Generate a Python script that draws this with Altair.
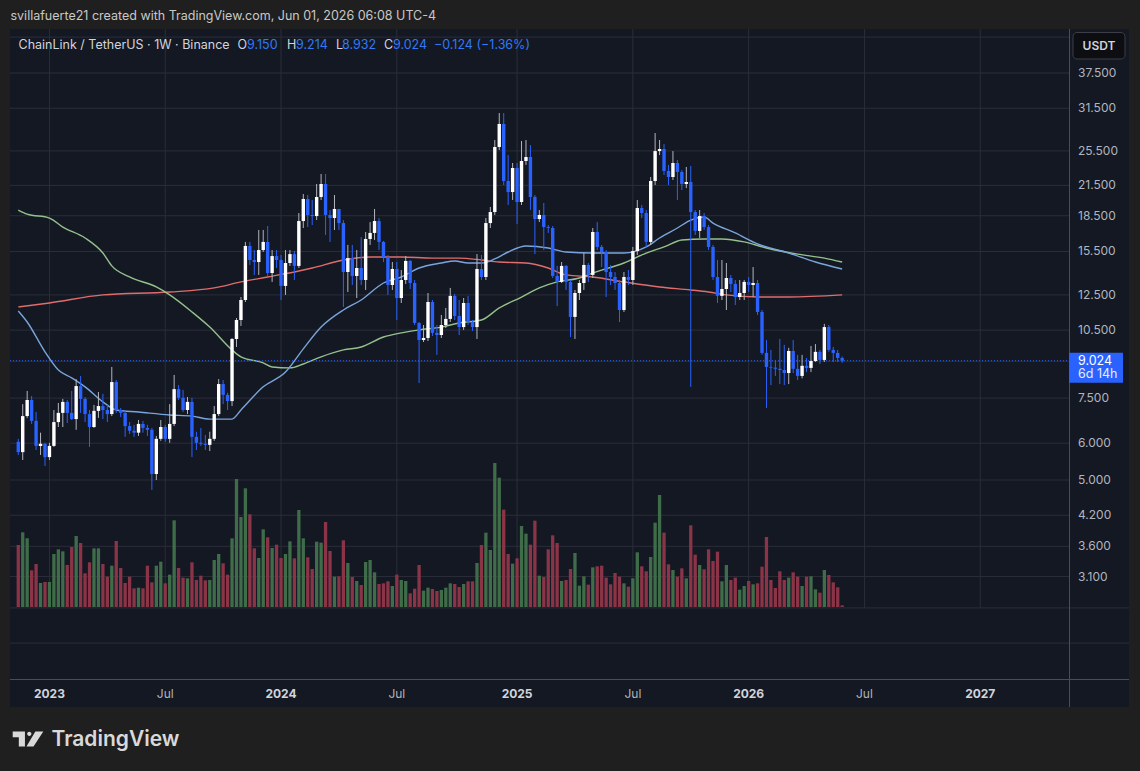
import altair as alt
import pandas as pd

# ---------------- data (weekly LINK/USDT) ----------------
opens = [6.04,5.74,6.86,7.43,6.70,5.92,5.98,5.60,5.92,6.66,
         6.97,7.36,6.97,6.76,7.96,7.47,6.93,6.50,7.04,7.21,
         7.07,6.93,8.12,7.07,6.97,6.53,6.38,6.32,6.60,6.47,
         6.41,5.15,6.13,6.50,6.13,6.60,7.84,7.51,7.07,7.36,
         6.19,6.01,5.98,5.95,6.13,6.93,8.04,7.62,7.39,10.05,
         11.04,12.19,15.93,14.86,14.71,15.61,16.25,13.93,15.15,14.86,
         13.07,14.64,15.30,14.43,18.02,20.10,18.57,18.47,20.30,21.65,
         18.57,18.29,19.13,17.84,14.00,15.00,13.73,14.28,13.46,16.49,
         16.99,18.02,16.25,15.08,13.13,14.21,12.31,13.46,14.79,13.26,
         10.88,10.00,10.10,12.07,10.36,10.25,10.77,11.10,12.44,11.26,
         10.66,12.01,10.93,10.66,14.21,13.66,17.84,18.84,26.00,29.14,
         21.97,20.80,23.43,19.80,24.26,24.74,20.30,18.20,18.57,17.49,
         17.41,13.73,13.33,14.43,13.33,11.21,12.62,13.26,14.50,13.80,
         17.07,15.85,15.46,14.00,13.66,13.26,11.60,13.66,13.46,15.53,
         19.22,18.75,16.25,21.97,25.48,25.74,23.09,22.41,24.02,22.97,
         21.65,21.86,18.84,17.16,18.47,17.49,15.85,13.66,12.44,12.87,
         13.59,13.20,12.37,12.62,13.33,13.13,13.26,11.49,9.38,8.75,
         8.72,8.67,8.62,8.49,9.47,8.67,8.37,8.80,8.71,9.01,
         9.43,9.06,10.66,9.52,9.38,9.150]
highs = [6.13,7.28,7.77,7.58,7.00,6.32,6.01,6.01,7.07,7.32,
         7.47,7.43,7.77,8.24,8.37,7.54,7.07,7.25,7.73,7.66,
         7.25,8.75,8.20,7.14,7.07,6.66,6.57,6.73,6.70,6.57,
         6.47,6.22,6.73,6.57,7.28,8.41,8.00,7.81,7.54,7.51,
         6.35,6.47,6.25,6.35,7.21,8.24,8.20,7.70,10.10,11.15,
         12.37,16.25,16.25,15.61,17.24,17.24,17.58,15.61,15.61,15.23,
         15.61,15.61,15.53,18.75,20.60,20.50,20.00,21.65,22.75,22.75,
         19.03,20.50,19.13,18.10,16.01,16.01,15.61,16.65,17.07,17.93,
         19.13,18.29,16.33,15.23,14.71,14.71,14.14,15.15,14.86,13.46,
         10.93,10.77,12.62,12.19,10.77,11.32,11.72,12.94,12.56,12.19,
         12.31,12.44,11.04,15.30,15.23,18.29,19.32,26.91,30.76,30.76,
         24.98,24.02,24.02,26.78,26.91,26.25,20.50,19.03,19.71,17.67,
         17.58,14.43,14.71,14.50,13.46,12.81,13.46,15.38,14.64,17.41,
         17.93,16.01,15.61,14.50,14.00,13.46,14.00,14.14,15.85,20.00,
         19.51,19.03,22.41,27.86,26.91,26.38,23.79,25.48,24.38,23.20,
         23.55,23.67,19.03,19.03,18.75,17.67,16.01,14.86,14.86,14.64,
         13.80,13.46,13.46,13.46,13.66,14.35,13.46,11.60,10.00,9.52,
         9.06,10.05,9.76,9.62,10.00,9.29,9.29,9.15,9.71,9.80,
         9.52,10.83,10.77,9.66,9.52,9.214]
lows = [5.66,5.52,6.80,6.60,5.80,5.66,5.36,5.52,5.89,6.50,
        6.50,6.63,6.73,6.41,6.97,6.66,5.89,6.47,6.80,6.76,
        6.66,6.86,6.97,6.83,6.19,6.28,6.19,6.22,6.32,6.22,
        4.76,5.00,6.07,6.04,6.01,6.53,7.43,7.00,6.93,5.60,
        5.80,5.92,5.80,5.77,6.07,6.86,7.28,7.07,7.21,9.66,
        10.72,12.07,14.50,13.80,13.80,15.46,13.73,13.33,14.28,12.19,
        12.50,14.43,13.46,14.28,17.41,17.49,17.67,18.11,20.00,16.82,
        16.25,17.24,17.24,11.78,12.68,13.13,12.31,13.13,12.81,16.01,
        16.41,15.61,14.71,12.50,12.81,11.04,12.01,13.20,12.87,10.77,
        8.08,9.90,9.95,10.20,9.29,10.10,10.61,10.93,11.04,10.25,
        10.51,10.77,10.46,10.05,13.46,13.46,17.41,18.57,25.61,21.54,
        19.51,20.00,17.76,19.51,23.79,19.03,15.30,17.93,15.61,16.99,
        13.59,11.83,13.26,12.81,10.15,10.05,12.19,12.81,13.33,13.59,
        15.61,14.35,12.37,13.13,12.81,10.93,11.49,13.13,13.13,15.23,
        18.29,15.77,16.01,21.54,24.98,22.63,21.54,22.08,20.00,21.01,
        21.21,7.93,16.82,16.57,17.24,15.61,13.46,12.01,12.19,11.60,
        12.68,11.89,12.19,12.19,12.68,12.37,11.32,9.29,7.14,8.00,
        8.37,8.04,8.00,8.04,8.49,8.20,8.27,8.53,8.53,8.97,
        8.88,8.97,9.43,8.97,8.97,8.932]
closes = [5.74,6.86,7.43,6.70,5.92,5.98,5.60,5.92,6.66,6.97,
          7.36,6.97,6.76,7.96,7.47,6.93,6.50,7.04,7.21,7.07,
          6.93,8.12,7.07,6.97,6.53,6.38,6.32,6.60,6.47,6.41,
          5.15,6.13,6.50,6.13,6.60,7.84,7.51,7.07,7.36,6.19,
          6.01,5.98,5.95,6.13,6.93,8.04,7.62,7.39,10.05,11.04,
          12.19,15.93,14.86,14.71,15.61,16.25,13.93,15.15,14.86,13.07,
          14.64,15.30,14.43,18.02,20.10,18.57,18.47,20.30,21.65,18.57,
          18.29,19.13,17.84,14.00,15.00,13.73,14.28,13.46,16.49,16.99,
          18.02,16.25,15.08,13.13,14.21,12.31,13.46,14.79,13.26,10.88,
          10.00,10.10,12.07,10.36,10.25,10.77,11.10,12.44,11.26,10.66,
          12.01,10.93,10.66,14.21,13.66,17.84,18.84,26.00,29.14,21.97,
          20.80,23.43,19.80,24.26,24.74,20.30,18.20,18.57,17.49,17.41,
          13.73,13.33,14.43,13.33,11.21,12.62,13.26,14.50,13.80,17.07,
          15.85,15.46,14.00,13.66,13.26,11.60,13.66,13.46,15.53,19.22,
          18.75,16.25,21.97,25.48,25.74,23.09,22.41,24.02,22.97,21.65,
          21.86,18.84,17.16,18.47,17.49,15.85,13.66,12.44,12.87,13.59,
          13.20,12.37,12.62,13.33,13.13,13.26,11.49,9.38,8.75,8.72,
          8.67,8.62,8.49,9.47,8.67,8.37,8.80,8.71,9.01,9.43,
          9.06,10.66,9.52,9.38,9.15,9.024]
volumes = [18.6,22.4,20.6,11.0,12.9,7.2,7.5,7.5,15.9,17.3,
           16.7,12.6,18.0,21.3,19.2,10.1,13.4,17.6,17.6,12.9,
           9.1,12.4,19.8,11.7,7.2,9.1,5.6,5.8,5.6,12.4,
           7.4,12.4,13.6,7.1,9.7,26.0,11.7,8.8,8.6,13.4,
           8.1,9.4,8.0,8.1,14.1,15.9,13.1,9.7,20.6,38.4,
           27.0,35.6,27.8,17.6,14.7,23.3,20.9,17.7,18.7,14.7,
           15.9,19.7,14.6,29.1,20.6,14.9,11.4,19.6,19.3,25.5,
           16.8,9.1,9.2,20.0,13.2,9.0,7.8,6.6,13.5,14.1,
           10.4,6.9,7.1,7.7,6.3,9.7,8.1,7.8,4.1,5.5,
           12.6,4.9,5.8,5.4,4.8,5.1,5.8,7.1,6.9,6.0,
           6.9,7.7,7.7,13.2,18.6,22.3,17.1,43.2,38.8,29.2,
           15.9,13.0,14.6,24.3,22.0,18.7,25.9,9.4,9.0,17.3,
           21.5,19.2,7.8,8.1,11.4,16.2,6.4,9.2,6.7,11.9,
           12.2,12.4,8.8,6.8,10.2,9.1,7.1,6.1,8.6,16.4,
           12.2,10.7,15.0,25.3,33.6,22.3,12.8,11.1,9.1,11.6,
           8.6,24.5,15.7,12.6,11.3,17.3,13.8,16.6,7.7,12.6,
           8.1,8.8,5.2,6.3,7.8,6.8,7.1,12.1,21.0,8.1,
           5.7,10.7,8.1,8.8,10.4,9.1,6.3,9.1,9.2,5.3,
           4.3,11.1,9.6,7.4,5.9,0.5]

# moving averages read at sample weeks (week number 1 = first candle)
ma_fast_week = [1,3,7,10,13,16,20,23,28,35,40,44,49,51,56,61,65,69,74,78,83,87,91,96,99,
                102,105,108,111,115,120,124,130,137,142,145,149,152,155,157,162,167,174,180,186]
ma_fast_val = [11.54,10.93,9.43,8.62,8.29,7.93,7.36,7.07,7.00,6.90,6.86,6.76,6.76,7.07,7.93,
               8.53,9.57,10.66,11.60,12.19,13.26,13.66,14.28,14.64,14.79,14.64,14.64,14.94,
               15.46,15.93,15.77,15.46,15.38,15.38,15.85,16.57,17.41,18.11,18.38,17.84,16.99,
               16.09,15.38,14.71,14.21]
ma_mid_week = [1,3,8,11,16,20,22,26,32,35,40,44,49,51,56,58,62,65,69,74,78,83,87,91,96,100,
               105,109,114,118,122,127,130,137,142,146,150,155,159,164,169,176,182,186]
ma_mid_val = [19.03,18.65,18.29,17.49,16.57,15.38,14.43,13.66,13.00,12.50,11.49,10.66,9.52,9.20,
              8.93,8.75,8.71,8.88,9.20,9.52,9.66,10.15,10.36,10.51,10.66,10.88,11.04,11.72,12.37,
              12.94,13.33,13.59,13.93,14.64,15.38,15.85,16.41,16.49,16.49,16.25,15.77,15.30,15.00,14.71]
ma_slow_week = [1,8,20,35,45,51,57,64,67,74,80,87,94,100,105,109,115,120,124,130,137,145,152,
                156,160,167,174,186]
ma_slow_val = [11.78,12.01,12.50,12.68,12.94,13.33,13.66,14.07,14.28,14.86,15.08,15.08,15.00,
               15.00,14.86,14.71,14.64,14.28,13.80,13.66,13.33,13.00,12.81,12.68,12.50,12.37,
               12.37,12.50]

price_ticks = [37.5, 31.5, 25.5, 21.5, 18.5, 15.5, 12.5, 10.5, 7.5, 6.0, 5.0, 4.2, 3.6, 3.1]
price_tick_labels = ["37.500", "31.500", "25.500", "21.500", "18.500", "15.500", "12.500",
                     "10.500", "7.500", "6.000", "5.000", "4.200", "3.600", "3.100"]
hidden_grid = [44.8, 9.0]
low_grid = [2.654, 2.23]
time_ticks = ["2023-01-02", "2023-07-03", "2024-01-01", "2024-07-01", "2025-01-06",
              "2025-07-07", "2026-01-05", "2026-07-06", "2027-01-04"]
time_labels = ["2023", "Jul", "2024", "Jul", "2025", "Jul", "2026", "Jul", "2027"]
last_price = 9.024

# ---------------- styling ----------------
FONT = "Inter"
PAGE_BG = "#1f1f1f"
PANEL_BG = "#141823"
GRID = "#2a2e39"
SEP = "#4a4d57"
UP, DOWN = "#ffffff", "#2962ff"
UP_WICK = "#b2b5be"
VOL_UP, VOL_DOWN = "#3f6d49", "#8b3447"
W, H = 1059, 650

start = pd.Timestamp("2022-11-14")
dates = pd.date_range(start, periods=len(closes), freq="7D")
df = pd.DataFrame({"date": dates, "open": opens, "high": highs, "low": lows,
                   "close": closes, "volume": volumes})


def wk(weeks):
    return [start + pd.Timedelta(days=7 * (w - 1)) for w in weeks]


xscale = alt.Scale(domain=[alt.DateTime(year=2022, month=11, date=8, hours=20, minutes=41),
                           alt.DateTime(year=2027, month=5, date=15, hours=16)], nice=False)
yscale = alt.Scale(type="log", domain=[1.8575, 46.40], nice=False)
X = alt.X("date:T", scale=xscale, axis=None)

one = pd.DataFrame({"a": [0]})
up_cond = "datum.close >= datum.open"


def txt(text, x, y, color, size=12, weight="normal", align="left", font=FONT):
    return alt.Chart(pd.DataFrame({"t": [text]})).mark_text(
        align=align, baseline="middle", color=color, fontSize=size,
        fontWeight=weight, font=font).encode(x=alt.value(x), y=alt.value(y), text="t:N")


layers = []
# panel background
layers.append(alt.Chart(one).mark_rect(color=PANEL_BG).encode(
    x=alt.value(0), x2=alt.value(1119), y=alt.value(-1), y2=alt.value(677)))
# horizontal grid
layers.append(alt.Chart(pd.DataFrame({"p": price_ticks + hidden_grid})).mark_rule(
    color=GRID, strokeWidth=1).encode(
    y=alt.Y("p:Q", scale=yscale, axis=None), x=alt.value(0), x2=alt.value(W)))
layers.append(alt.Chart(pd.DataFrame({"p": low_grid})).mark_rule(
    color=GRID, strokeWidth=1).encode(
    y=alt.Y("p:Q", scale=yscale, axis=None), x=alt.value(0), x2=alt.value(1119)))
# vertical grid
tdf = pd.DataFrame({"date": pd.to_datetime(time_ticks), "label": time_labels})
layers.append(alt.Chart(tdf).mark_rule(color=GRID, strokeWidth=1).encode(
    x=X, y=alt.value(-1), y2=alt.value(578)))
# volume
layers.append(alt.Chart(df).mark_bar(size=3.3).encode(
    x=X,
    y=alt.Y("volume:Q", scale=alt.Scale(domain=[0, 43.2], range=[577, 433]), axis=None),
    color=alt.condition(up_cond, alt.value(VOL_UP), alt.value(VOL_DOWN))))
# moving averages
for weeks, vals, col in [(ma_slow_week, ma_slow_val, "#e06c6c"),
                         (ma_mid_week, ma_mid_val, "#94c18c"),
                         (ma_fast_week, ma_fast_val, "#79a5dc")]:
    mdf = pd.DataFrame({"date": wk(weeks), "v": vals})
    layers.append(alt.Chart(mdf).mark_line(color=col, strokeWidth=1.4, interpolate="monotone").encode(
        x=X, y=alt.Y("v:Q", scale=yscale, axis=None)))
# last price dotted line
layers.append(alt.Chart(pd.DataFrame({"p": [last_price]})).mark_rule(
    color=DOWN, strokeWidth=1, strokeDash=[1, 2]).encode(
    y=alt.Y("p:Q", scale=yscale, axis=None), x=alt.value(0), x2=alt.value(W)))
# wicks and bodies
layers.append(alt.Chart(df).mark_rule(strokeWidth=1).encode(
    x=X, y=alt.Y("low:Q", scale=yscale, axis=None), y2="high:Q",
    color=alt.condition(up_cond, alt.value(UP_WICK), alt.value(DOWN))))
layers.append(alt.Chart(df).mark_bar(size=3.4).encode(
    x=X, y=alt.Y("open:Q", scale=yscale, axis=None), y2="close:Q",
    color=alt.condition(up_cond, alt.value(UP), alt.value(DOWN))))
# separators
layers.append(alt.Chart(one).mark_rule(color=SEP, strokeWidth=1).encode(
    x=alt.value(1059.5), y=alt.value(-1), y2=alt.value(677)))
layers.append(alt.Chart(one).mark_rule(color=SEP, strokeWidth=1).encode(
    x=alt.value(0), x2=alt.value(1119), y=alt.value(649.5)))
# price axis labels
layers.append(alt.Chart(pd.DataFrame({"p": price_ticks, "label": price_tick_labels})).mark_text(
    align="left", baseline="middle", color="#b2b5be", fontSize=12, font=FONT).encode(
    x=alt.value(1068), y=alt.Y("p:Q", scale=yscale, axis=None), text="label:N"))
# last price box
box_path = "M-1,-0.296 L1,-0.296 L1,0.815 L-1,0.815 Z"
pdf = pd.DataFrame({"p": [last_price], "a": ["9.024"], "b": ["6d 14h"]})
layers.append(alt.Chart(pdf).mark_point(shape=box_path, size=2916, filled=True, opacity=1,
                                        color=DOWN, strokeWidth=0).encode(
    x=alt.value(1086), y=alt.Y("p:Q", scale=yscale, axis=None)))
layers.append(alt.Chart(pdf).mark_text(align="left", baseline="middle", color="#ffffff",
                                       fontSize=12.5, font=FONT).encode(
    x=alt.value(1068), y=alt.Y("p:Q", scale=yscale, axis=None), text="a:N"))
layers.append(alt.Chart(pdf).mark_text(align="left", baseline="middle", color="#e8ecff",
                                       fontSize=12.5, font=FONT, dy=13).encode(
    x=alt.value(1068), y=alt.Y("p:Q", scale=yscale, axis=None), text="b:N"))
# USDT box
layers.append(alt.Chart(one).mark_rect(fill="#0d0e11", stroke="#3c3f48", strokeWidth=1,
                                       cornerRadius=4).encode(
    x=alt.value(1063), x2=alt.value(1115), y=alt.value(2.5), y2=alt.value(29)))
layers.append(txt("USDT", 1089, 16, "#d1d4dc", size=12, weight=600, align="center"))
# time axis labels
years = tdf[tdf["label"] != "Jul"]
months = tdf[tdf["label"] == "Jul"]
layers.append(alt.Chart(years).mark_text(align="center", baseline="middle", color="#d1d4dc",
                                         fontSize=12, fontWeight="bold", font=FONT).encode(
    x=X, y=alt.value(664), text="label:N"))
layers.append(alt.Chart(months).mark_text(align="center", baseline="middle", color="#b2b5be",
                                          fontSize=12, font=FONT).encode(
    x=X, y=alt.value(664), text="label:N"))
# header and legend
layers.append(txt("svillafuerte21 created with TradingView.com, Jun 01, 2026 06:08 UTC-4",
                  0.5, -14, "#c8c8c8", size=12.5))
layers.append(txt("ChainLink / TetherUS · 1W · Binance", 8.5, 15, "#d1d4dc", size=12.5))
VAL = "#3179f5"
for s, x, c in [("O", 227.5, "#d1d4dc"), ("9.150", 237, VAL), ("H", 277, "#d1d4dc"),
                ("9.214", 286, VAL), ("L", 326, "#d1d4dc"), ("8.932", 332, VAL),
                ("C", 374, "#d1d4dc"), ("9.024", 383, VAL), ("\u22120.124 (\u22121.36%)", 424, VAL)]:
    layers.append(txt(s, x, 15, c, size=12.5))
# TradingView logo
logo_path = ("M-1,-0.49 L-0.2,-0.49 L-0.2,0.49 L-0.6,0.49 L-0.6,-0.12 L-1,-0.12 Z "
             "M-0.055,-0.34 A0.14,0.14 0 1,0 0.225,-0.34 A0.14,0.14 0 1,0 -0.055,-0.34 Z "
             "M0.48,-0.49 L1,-0.49 L0.36,0.49 L-0.10,0.49 Z")
layers.append(alt.Chart(one).mark_point(shape=logo_path, size=936, filled=True, opacity=1,
                                        color="#d9d9d9", strokeWidth=0).encode(
    x=alt.value(18), y=alt.value(709)))
layers.append(txt("TradingView", 41.5, 710, "#d9d9d9", size=21, weight=600))

chart = alt.layer(*layers).resolve_scale(y="independent").properties(
    width=W, height=H,
    padding={"left": 10, "top": 30, "right": 71, "bottom": 91},
    autosize=alt.AutoSizeParams(type="none"),
    background=PAGE_BG,
).configure_view(strokeWidth=0)

chart.save("out.html", embed_options={"renderer": "svg", "actions": False})
